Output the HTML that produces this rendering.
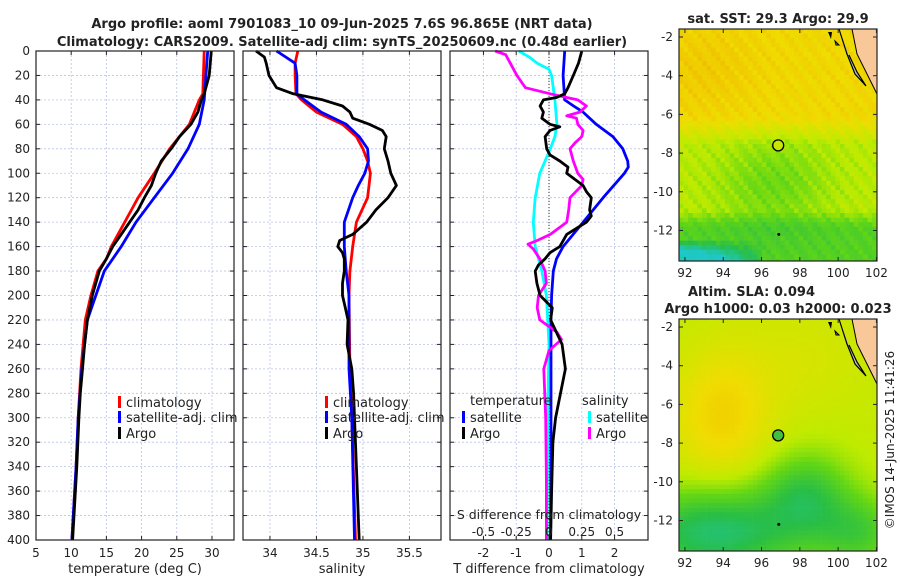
<!DOCTYPE html>
<html><head><meta charset="utf-8"><style>
body{margin:0;background:#fff;width:900px;height:580px;overflow:hidden}
svg text{font-family:"DejaVu Sans","Liberation Sans",sans-serif;fill:#222}
</style></head><body>
<svg id="c" width="900" height="580" xmlns="http://www.w3.org/2000/svg">
<text x="342" y="28" font-size="13" font-weight="bold" text-anchor="middle">Argo profile: aoml 7901083_10 09-Jun-2025 7.6S 96.865E (NRT data)</text>
<text x="342" y="46" font-size="13" font-weight="bold" text-anchor="middle">Climatology: CARS2009. Satellite-adj clim: synTS_20250609.nc (0.48d earlier)</text>
<text x="778" y="23" font-size="13" font-weight="bold" text-anchor="middle">sat. SST: 29.3 Argo: 29.9</text>
<text x="688" y="296" font-size="13" font-weight="bold">Altim. SLA: 0.094</text>
<text x="778" y="313" font-size="13" font-weight="bold" text-anchor="middle">Argo h1000: 0.03 h2000: 0.023</text>
<text x="0" y="0" font-size="12" text-anchor="middle" transform="translate(894,440) rotate(-90)">©IMOS 14-Jun-2025 11:41:26</text>
</svg>
<script>
const NS="http://www.w3.org/2000/svg";
const svg=document.getElementById('c');
function el(tag,attrs,parent){const e=document.createElementNS(NS,tag);for(const k in attrs)e.setAttribute(k,attrs[k]);(parent||svg).appendChild(e);return e;}
function txt(x,y,s,size,anchor,parent){const t=el('text',{x:x,y:y,'font-size':size||12,'text-anchor':anchor||'middle'},parent);t.textContent=s;return t;}

// ---------- DATA ----------
const depthTicks=[0,20,40,60,80,100,120,140,160,180,200,220,240,260,280,300,320,340,360,380,400];
const tTicks=[5,10,15,20,25,30];
const sTicks=[34,34.5,35,35.5];
const dTTicks=[-2,-1,0,1,2];
const dSTicks=[-0.5,-0.25,0,0.25,0.5];
const dSTickLabels=["-0.5","-0.25","0","0.25","0.5"];

const climDepth=[0,35,40,60,80,100,120,140,160,170,180,200,220,260,300,340,400];
const climT=[28.9,28.7,28.2,26.8,24.0,21.8,19.5,17.6,15.7,15.0,13.8,12.8,12.0,11.4,11.0,10.7,10.1];
const satDepth=[0,40,60,80,100,120,140,160,180,200,220,260,300,340,400];
const satT=[29.4,28.9,28.2,26.6,24.4,21.8,19.2,17.1,14.7,13.5,12.3,11.5,11.0,10.7,10.1];
const argoDepth=[0,20,35,40,50,60,70,80,90,100,110,120,130,140,150,160,170,180,190,200,220,240,260,280,300,340,400];
const argoT=[29.9,29.6,28.9,28.5,28.0,27.0,25.4,24.2,22.8,22.0,21.4,20.4,19.5,18.3,17.1,15.9,15.0,14.0,13.5,13.0,12.3,11.9,11.6,11.3,11.1,10.8,10.2];

const climSDepth=[0,10,20,35,40,50,60,70,80,90,100,120,140,160,180,200,260,300,400];
const climS=[34.30,34.27,34.27,34.28,34.34,34.50,34.78,34.93,35.00,35.05,35.08,35.05,34.93,34.89,34.86,34.85,34.86,34.88,34.92];
const satSDepth=[0,10,20,35,40,50,60,70,80,90,100,110,120,140,160,180,200,260,300,400];
const satS=[34.07,34.27,34.29,34.29,34.37,34.55,34.82,34.96,35.05,35.06,35.02,34.95,34.89,34.80,34.80,34.82,34.85,34.85,34.88,34.91];
const argoSDepth=[0,5,10,20,30,35,40,45,50,55,60,65,70,80,90,100,110,120,130,140,150,155,160,165,170,180,190,200,210,220,240,260,280,300,340,400];
const argoS=[33.85,33.94,33.96,33.99,34.07,34.25,34.57,34.78,34.86,34.89,35.07,35.21,35.25,35.23,35.27,35.30,35.36,35.27,35.14,35.04,34.89,34.75,34.73,34.78,34.80,34.80,34.78,34.78,34.81,34.84,34.83,34.88,34.90,34.91,34.93,34.96];

const dTsatDepth=[0,20,40,45,50,60,70,80,90,95,100,120,140,160,170,180,200,220,300,400];
const dTsat=[0.48,0.43,0.48,0.75,1.04,1.44,1.95,2.25,2.40,2.42,2.30,1.65,1.04,0.43,0.23,0.13,0.08,0.06,0.06,0.05];
const dTargoDepth=[0,10,20,30,35,38,40,45,50,55,60,62,65,70,80,85,90,95,100,105,110,115,120,130,135,140,145,150,160,165,170,175,180,190,200,210,220,240,260,280,300,320,360,400];
const dTargo=[1.0,0.9,0.74,0.58,0.48,0.23,-0.17,-0.27,-0.17,-0.22,0.03,0.33,0.03,-0.12,-0.07,0.03,0.33,0.58,0.54,0.79,1.04,1.14,1.29,1.24,1.29,1.14,0.84,0.54,0.33,0.03,-0.12,-0.32,-0.42,-0.37,-0.27,0.1,0.05,0.4,0.5,0.35,0.2,0.12,0.08,0.05];
const dSsatDepth=[0,5,10,15,20,40,60,70,80,100,120,140,160,180,200,240,300,400];
const dSsat=[-0.23,-0.15,-0.09,0,0.02,0.045,0.06,0.045,0.01,-0.07,-0.105,-0.12,-0.105,-0.055,-0.02,0,-0.01,-0.015];
const dSargoDepth=[0,3,10,20,30,35,38,40,43,45,50,53,55,60,65,70,75,80,90,100,105,110,120,130,140,150,155,158,162,170,180,190,200,210,220,230,236,245,260,300,350,400];
const dSargo=[-0.41,-0.33,-0.295,-0.245,-0.18,0.01,0.135,0.22,0.26,0.285,0.235,0.135,0.21,0.22,0.26,0.25,0.2,0.16,0.185,0.22,0.26,0.25,0.16,0.15,0.135,0.01,-0.09,-0.16,-0.12,-0.07,-0.03,-0.02,-0.08,-0.09,-0.07,0.06,0.095,0,-0.04,-0.025,-0.02,-0.02];

// ---------- AXES ----------
const yTop=51,yBot=540;
const yD=d=>yTop+d*(yBot-yTop)/400;
const P1={x0:36,x1:234,min:5,max:33.13};
const P2={x0:243,x1:441,min:33.71,max:35.84};
const P3={x0:450,x1:648,min:-3.02,max:3.02};
const sx=(p,v)=>p.x0+(v-p.min)*(p.x1-p.x0)/(p.max-p.min);

function panel(p,name,ticks,labels,xlabel){
  const g=el('g',{});
  
  
  ticks.forEach(v=>{const x=sx(p,v);
    el('line',{x1:x,x2:x,y1:yTop,y2:yBot,stroke:'#b8c4e8','stroke-width':0.8,'stroke-dasharray':'2,2'},g);
    el('line',{x1:x,x2:x,y1:yBot,y2:yBot-4,stroke:'#222'},g);
    el('line',{x1:x,x2:x,y1:yTop,y2:yTop+4,stroke:'#222'},g);});
  depthTicks.forEach(d=>{const y=yD(d);
    el('line',{x1:p.x0,x2:p.x1,y1:y,y2:y,stroke:'#b8c4e8','stroke-width':0.8,'stroke-dasharray':'2,2'},g);
    el('line',{x1:p.x0,x2:p.x0+4,y1:y,y2:y,stroke:'#222'},g);
    el('line',{x1:p.x1,x2:p.x1-4,y1:y,y2:y,stroke:'#222'},g);});
  ticks.forEach((v,i)=>{const t=txt(sx(p,v),557,labels[i],12);});
  const xl=txt((p.x0+p.x1)/2,573,xlabel,13);
  
  
  return g;
}
const g1=panel(P1,'temperature-panel',tTicks,tTicks.map(String),'temperature (deg C)');
depthTicks.forEach(d=>{const t=txt(30,yD(d)+4,String(d),12,'end');});
const g2=panel(P2,'salinity-panel',sTicks,sTicks.map(String),'salinity');
const g3=panel(P3,'difference-panel',dTTicks,dTTicks.map(String),'T difference from climatology');
el('line',{x1:sx(P3,0),x2:sx(P3,0),y1:yTop,y2:yBot,stroke:'#333','stroke-width':1,'stroke-dasharray':'1,2'},g3);

function line(p,xs,ds,color,name,scale,g){
  let pts=ds.map((d,i)=>sx(p,xs[i]*(scale||1)).toFixed(1)+','+yD(d).toFixed(1)).join(' ');
  const l=el('polyline',{points:pts,fill:'none',stroke:color,'stroke-width':2.8,'stroke-linejoin':'round'},g);
  
  
}
line(P1,climT,climDepth,'#f00','climatology-temp-line',1,g1);
line(P1,satT,satDepth,'#00f','satellite-temp-line',1,g1);
line(P1,argoT,argoDepth,'#000','argo-temp-line',1,g1);
line(P2,climS,climSDepth,'#f00','climatology-salinity-line',1,g2);
line(P2,satS,satSDepth,'#00f','satellite-salinity-line',1,g2);
line(P2,argoS,argoSDepth,'#000','argo-salinity-line',1,g2);
line(P3,dSsat,dSsatDepth,'#0ff','satellite-salinity-diff-line',4,g3);
line(P3,dTsat,dTsatDepth,'#00f','satellite-temp-diff-line',1,g3);
line(P3,dSargo,dSargoDepth,'#f0f','argo-salinity-diff-line',4,g3);
line(P3,dTargo,dTargoDepth,'#000','argo-temp-diff-line',1,g3);

const sl=txt(549,519,'S difference from climatology',12.5);


dSTicks.forEach((v,i)=>{const t=txt(sx(P3,v*4),536,dSTickLabels[i],12);});

[P1,P2,P3].forEach(p=>el('rect',{x:p.x0,y:yTop,width:p.x1-p.x0,height:yBot-yTop,fill:'none',stroke:'#222','stroke-width':1.2}));

function legItem(x,y,color,label,name){
  const g=el('g',{});
  
  
  el('rect',{x:x-2,y:y-11,width:3,height:12,fill:color},g);
  txt(x+6,y,label,13,'start',g);
}
legItem(120,407,'#f00','climatology','legend-climatology');
legItem(120,422,'#00f','satellite-adj. clim','legend-satellite');
legItem(120,438,'#000','Argo','legend-argo');
legItem(327,407,'#f00','climatology','legend-climatology-s');
legItem(327,422,'#00f','satellite-adj. clim','legend-satellite-s');
legItem(327,438,'#000','Argo','legend-argo-s');
const lt=txt(470,405,'temperature',13,'start');
const ls=txt(582,405,'salinity',13,'start');
legItem(464,422,'#00f','satellite','legend-temp-satellite');
legItem(464,438,'#000','Argo','legend-temp-argo');
legItem(590,422,'#0ff','satellite','legend-sal-satellite');
legItem(590,438,'#f0f','Argo','legend-sal-argo');

// ---------- MAPS ----------
const mapLonTicks=[92,94,96,98,100,102];
const mapLatTicks=[-2,-4,-6,-8,-10,-12];
function cmap(v){
  const stops=[[0,[30,200,200]],[0.25,[40,190,70]],[0.45,[100,215,20]],[0.6,[190,235,0]],[0.78,[240,220,0]],[1,[240,170,0]]];
  v=Math.max(0,Math.min(1,v));
  for(let i=1;i<stops.length;i++){if(v<=stops[i][0]){const a=stops[i-1],b=stops[i],f=(v-a[0])/(b[0]-a[0]);
    return 'rgb('+a[1].map((c,k)=>Math.round(c+(b[1][k]-c)*f)).join(',')+')';}}
  return 'rgb(240,170,0)';
}
function drawMap(y0,name,field,circleFill){
  const x0=679,x1=877,y1=y0+232;
  const lon=v=>x0+(v-91.69)*19.15;
  const lat=v=>y0+8+(-2-v)*19.35;
  const g=el('g',{});
  
  
  const cs=4.6;
  for(let y=y0;y<y1;y+=cs)for(let x=x0;x<x1;x+=cs){
    const lo=91.69+(x-x0)/19.15,la=-2-(y-y0-8)/19.35;
    el('rect',{x:x,y:y,width:Math.min(cs+0.3,x1-x),height:Math.min(cs+0.3,y1-y),fill:cmap(field(lo,la))},g);}
  el('polygon',{points:(x1-25)+','+y0+' '+x1+','+y0+' '+x1+','+(y0+65)+' '+(x1-5)+','+(y0+55)+' '+(x1-20)+','+(y0+25),fill:'#f8c898',stroke:'#000','stroke-width':1},g);
  el('polyline',{points:(x1-38)+','+y0+' '+(x1-30)+','+(y0+25)+' '+(x1-22)+','+(y0+45)+' '+(x1-11)+','+(y0+57)+' '+(x1-20)+','+(y0+43)+' '+(x1-28)+','+(y0+26),fill:'#bbb',stroke:'#000','stroke-width':1.2},g);
  el('polygon',{points:(x1-49)+','+(y0+3)+' '+(x1-45)+','+(y0+3)+' '+(x1-46)+','+(y0+10),fill:'#000'},g);
  el('polygon',{points:(x1-42)+','+(y0+12)+' '+(x1-38)+','+(y0+16)+' '+(x1-41)+','+(y0+16),fill:'#888',stroke:'#000'},g);
  el('circle',{cx:lon(96.87),cy:lat(-7.6),r:5.5,fill:circleFill,stroke:'#000','stroke-width':1.3},g);
  el('circle',{cx:lon(96.9),cy:lat(-12.2),r:1.5,fill:'#000'},g);
  el('rect',{x:x0,y:y0,width:x1-x0,height:y1-y0,fill:'none',stroke:'#222','stroke-width':1.2},g);
  mapLonTicks.forEach(v=>{const x=lon(v);el('line',{x1:x,x2:x,y1:y1,y2:y1-4,stroke:'#222'},g);el('line',{x1:x,x2:x,y1:y0,y2:y0+4,stroke:'#222'},g);
    const t=txt(x,y1+16,String(v),12,'middle',g);});
  mapLatTicks.forEach(v=>{const y=lat(v);el('line',{x1:x0,x2:x0+4,y1:y,y2:y,stroke:'#222'},g);el('line',{x1:x1,x2:x1-4,y1:y,y2:y,stroke:'#222'},g);
    const t=txt(x0-6,y+4,String(v),12,'end',g);});
}
const G=(lo,la,clo,cla,slo,sla)=>Math.exp(-((lo-clo)**2/(2*slo*slo)+(la-cla)**2/(2*sla*sla)));
function sstField(lo,la){
  let v=0.8;
  if(la<-6) v-=Math.min(0.2,(-6-la)*0.14);
  v-=0.14*G(lo,la,96.5,-9.5,2.0,1.6);
  if(la<-10.8) v-=Math.min(0.2,(-10.8-la)*0.22);
  if(la<-12.3&&lo<96) v-=Math.min(0.4,(-12.3-la)*0.45*(96.5-lo)/3);
  v+=0.06*G(lo,la,93,-3.5,1.8,1.5);
  return v+0.03*Math.sin(lo*7.1+la*5.3)+0.02*Math.sin(lo*13.7-la*11.1);
}
function slaField(lo,la){
  let v=0.62;
  v+=0.2*G(lo,la,93.8,-6.5,1.8,2.4);
  v+=0.06*G(lo,la,98,-3.5,2.5,2);
  v-=0.45*G(lo,la,93.5,-12.5,3.2,1.6);
  v-=0.3*G(lo,la,98.2,-10.5,1.6,1.5);
  v-=0.25*G(lo,la,101,-12.5,1.6,1.3);
  return v;
}
drawMap(29,'sst-map',sstField,'#c8e800');
drawMap(319,'sla-map',slaField,'#40c040');
</script>
</body></html>
